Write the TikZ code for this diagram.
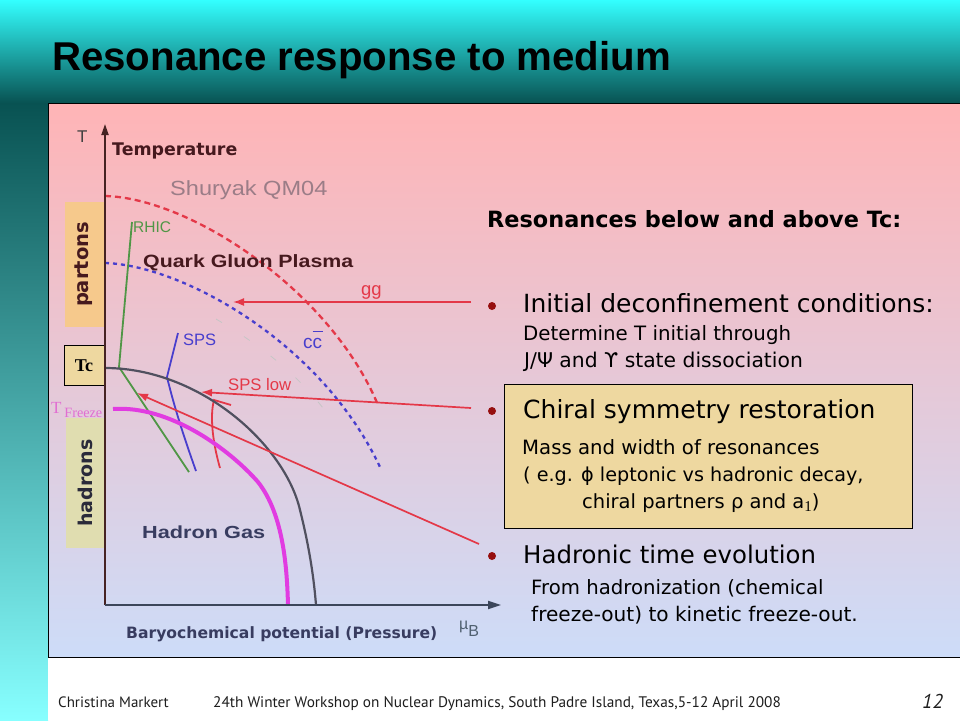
\documentclass[tikz,border=0pt]{standalone}
\usepackage{fontspec}
\setmainfont{Liberation Sans}
\newfontfamily\comic{DejaVu Sans}
\newfontfamily\footf{PT Sans}
\newfontfamily\tms{Liberation Serif}
\usetikzlibrary{arrows.meta}
\definecolor{cyanA}{RGB}{51,255,255}
\definecolor{cyanB}{RGB}{22,170,170}
\definecolor{cyanC}{RGB}{8,82,82}
\definecolor{stripB}{RGB}{135,255,255}
\definecolor{stripM}{RGB}{45,165,165}
\definecolor{pinkT}{RGB}{255,180,182}
\definecolor{lavM}{RGB}{236,214,236}
\definecolor{blueB}{RGB}{205,220,248}
\definecolor{qred}{RGB}{228,56,72}
\definecolor{qblue}{RGB}{72,62,205}
\definecolor{qgreen}{RGB}{80,150,70}
\definecolor{qgray}{RGB}{80,80,95}
\definecolor{qmag}{RGB}{225,60,225}
\definecolor{bul}{RGB}{150,15,15}
\definecolor{tanbox}{RGB}{238,216,160}
\definecolor{partbox}{RGB}{246,201,140}
\definecolor{hadbox}{RGB}{224,221,176}
\definecolor{maroon}{RGB}{70,25,30}
\definecolor{slate}{RGB}{56,60,96}
\definecolor{shur}{RGB}{155,125,135}
\definecolor{freeze}{RGB}{225,110,210}
\definecolor{axisT}{RGB}{70,35,35}
\definecolor{axisM}{RGB}{60,70,90}
\definecolor{mugray}{RGB}{80,96,112}
\tikzset{
  txt/.style={anchor=base west, inner sep=0pt},
  redarrow/.style={draw=qred, line width=1.7pt, -{Latex[length=11pt,width=8pt]}},
  bulletdot/.style={circle, fill=bul, minimum size=8pt, inner sep=0pt},
  sidebox/.style={rotate=90, minimum width=125pt, minimum height=39pt, inner sep=0pt},
}
\begin{document}
\begin{tikzpicture}[x=1pt,y=-1pt]
\useasboundingbox (0,0) rectangle (960,720);
% backgrounds
\shade[top color=cyanA, middle color=cyanB, bottom color=cyanC] (0,0) rectangle (960,103);
\shade[top color=cyanC, middle color=stripM, bottom color=stripB] (0,103) rectangle (48,720);
\fill[white] (48,657) rectangle (960,720);
\shade[top color=pinkT, middle color=lavM, bottom color=blueB] (48,103) rectangle (960,657);
\draw[black, line width=1pt] (48,103) rectangle (962,657);
% title
\node[txt] (title) at (52,70) {\fontsize{40.2}{48}\selectfont\bfseries Resonance response to medium};
% side boxes
\node[sidebox, fill=partbox] (partons) at (84,264.5) {\comic\bfseries\fontsize{19.5}{22}\selectfont\color{maroon}partons};
\node[draw=black, line width=0.8pt, fill=tanbox, minimum width=40pt, minimum height=40pt, inner sep=0pt] (tc) at (84,365.5) {\tms\bfseries\fontsize{18}{20}\selectfont Tc};
\node[sidebox, minimum width=130pt, fill=hadbox] (hadrons) at (85.5,483) {\comic\bfseries\fontsize{19}{22}\selectfont\color[RGB]{42,42,58}hadrons};
\node[txt] (tfreeze) at (51,413) {\tms\color{freeze}\fontsize{17}{18}\selectfont T\,\raisebox{-4pt}{\fontsize{14.2}{15}\selectfont Freeze}};
% curves
\draw[qred, line width=2.3pt, dash pattern=on 6pt off 4pt] (105,196) .. controls (190,198) and (330,290) .. (378,405);
\draw[qblue, line width=2.3pt, dash pattern=on 4pt off 4pt] (105,263) .. controls (180,265) and (320,340) .. (380,467);
\draw[gray!45, line width=0.8pt, dash pattern=on 7pt off 26pt] (216,319) .. controls (260,345) and (300,375) .. (332,420);
\draw[qgreen, line width=1.8pt] (132,222) -- (119,367) -- (189,472);
\draw[qblue, line width=1.8pt] (178,333) -- (167,377) .. controls (175,410) and (185,440) .. (196,471);
\draw[qred, line width=1.8pt] (220,468) .. controls (212,440) and (210,415) .. (214,400) -- (231,405);
\draw[qgray, line width=2.2pt] (105,368) .. controls (200,368) and (285,445) .. (300,510) .. controls (310,550) and (314,580) .. (316,605);
\draw[qmag, line width=4pt] (113,409) .. controls (170,405) and (230,450) .. (258,482) .. controls (284,515) and (287,570) .. (288,605);
% axes
\coordinate (origin) at (105,605);
\coordinate (ttip) at (105,124);
\coordinate (mtip) at (501,605);
\draw[axisT, line width=1.8pt, -{Triangle[length=11pt,width=7pt]}] (origin) -- (ttip);
\draw[axisM, line width=1.8pt, -{Triangle[length=13pt,width=8pt]}] (origin) -- (mtip);
% diagram labels
\node[txt] (tlab) at (77,142) {\fontsize{17}{18}\selectfont\color[RGB]{64,64,64}T};
\node[txt] (temp) at (112,155) {\comic\bfseries\fontsize{17.4}{20}\selectfont\color{maroon}Temperature};
\node[txt] (shur) at (170,195) {\fontsize{20.5}{24}\selectfont\color{shur}\scalebox{1.15}[1]{Shuryak QM04}};
\node[txt] (rhic) at (133,232) {\fontsize{15.5}{18}\selectfont\color{qgreen}RHIC};
\node[txt] (qgp) at (143,267) {\fontsize{17.8}{20}\selectfont\bfseries\color{maroon}\scalebox{1.2}[1]{Quark Gluon Plasma}};
\node[txt] (gg) at (361,295) {\fontsize{18.5}{20}\selectfont\color{qred}gg};
\node[txt] (sps) at (183,345) {\fontsize{16.5}{20}\selectfont\color{qblue}SPS};
\node[txt] (cc) at (303,348) {\fontsize{19}{20}\selectfont\color{qblue}c\rlap{\raisebox{16pt}{\rule{10pt}{1.2pt}}}c};
\node[txt] (spslow) at (228,390) {\fontsize{16.7}{20}\selectfont\color{qred}SPS low};
\node[txt] (hgas) at (142,538) {\fontsize{17.5}{20}\selectfont\bfseries\color{slate}\scalebox{1.24}[1]{Hadron Gas}};
\node[txt] (mub) at (459,629) {\fontsize{16}{18}\selectfont\color{mugray}\textmu\raisebox{-7pt}{B}};
\node[txt] (baryo) at (126,638) {\comic\bfseries\fontsize{15.6}{18}\selectfont\color{slate}Baryochemical potential (Pressure)};
% right side
\node[txt] (head) at (487,227) {\comic\bfseries\fontsize{22.4}{26}\selectfont Resonances below and above Tc:};
\node[bulletdot] (b1) at (492,306) {};
\node[bulletdot] (b2) at (492,411) {};
\node[bulletdot] (b3) at (492,556) {};
\node[txt] (i1) at (523,312) {\comic\fontsize{25}{28}\selectfont Initial deconfinement conditions:};
\node[txt] (i1a) at (523,340) {\comic\fontsize{19.8}{24}\selectfont Determine T initial through};
\node[txt] (i1b) at (524,367) {\comic\fontsize{20.3}{24}\selectfont J/Ψ and ϒ state dissociation};
\node[draw=black, line width=0.8pt, fill=tanbox, minimum width=408pt, minimum height=144pt, inner sep=0pt] (chibox) at (708,456) {};
\node[txt] (i2) at (523,418) {\comic\fontsize{25}{28}\selectfont Chiral symmetry restoration};
\node[txt] (i2a) at (522,454) {\comic\fontsize{19.7}{24}\selectfont Mass and width of resonances};
\node[txt] (i2b) at (523,481) {\comic\fontsize{19.2}{24}\selectfont ( e.g. ϕ leptonic vs hadronic decay,};
\node[txt] (i2c) at (582,508) {\comic\fontsize{19.5}{24}\selectfont chiral partners ρ and a\raisebox{-3pt}{\tms\fontsize{15}{16}\selectfont 1})};
\node[txt] (i3) at (523,563) {\comic\fontsize{24.4}{28}\selectfont Hadronic time evolution};
\node[txt] (i3a) at (531,594) {\comic\fontsize{19.7}{24}\selectfont From hadronization (chemical};
\node[txt] (i3b) at (531,621) {\comic\fontsize{20.1}{24}\selectfont freeze-out) to kinetic freeze-out.};
% red arrows
\coordinate (ggS) at (471,302);
\coordinate (ggE) at (233,302);
\coordinate (slS) at (471,408);
\coordinate (slE) at (201,392);
\coordinate (hdS) at (479,544);
\coordinate (hdE) at (137,393);
\draw[redarrow] (ggS) -- (ggE);
\draw[redarrow] (slS) -- (slE);
\draw[redarrow] (hdS) -- (hdE);
% footer
\node[txt] (auth) at (58,707) {\footf\fontsize{15}{16}\selectfont\color[RGB]{30,30,30}Christina Markert};
\node[txt] (conf) at (213,707) {\footf\fontsize{15.3}{16}\selectfont\color[RGB]{30,30,30}24th Winter Workshop on Nuclear Dynamics, South Padre Island, Texas,5-12 April 2008};
\node[txt] (pg) at (922,708) {\footf\itshape\fontsize{20}{22}\selectfont\color[RGB]{30,30,30}12};
\end{tikzpicture}
\end{document}
